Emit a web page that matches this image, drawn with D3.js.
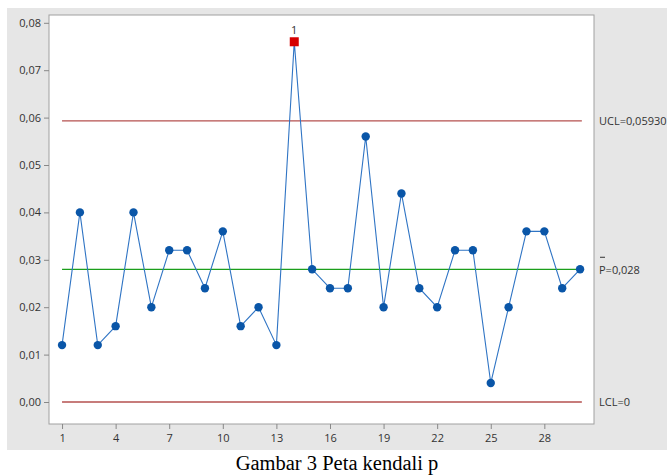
<!DOCTYPE html>
<html>
<head>
<meta charset="utf-8">
<script src="https://cdn.jsdelivr.net/npm/d3@7"></script>
<style>
  body { margin: 0; background: #fff; }
  text { font-family: "Open Sans", "Noto Sans", sans-serif; }
</style>
</head>
<body>
<div id="chart"></div>
<script>
// p chart data
const samples = d3.range(1, 31);
const pValues = [0.012, 0.040, 0.012, 0.016, 0.040, 0.020, 0.032, 0.032, 0.024, 0.036,
                 0.016, 0.020, 0.012, 0.076, 0.028, 0.024, 0.024, 0.056, 0.020, 0.044,
                 0.024, 0.020, 0.032, 0.032, 0.004, 0.020, 0.036, 0.036, 0.024, 0.028];
const xTicks = [1, 4, 7, 10, 13, 16, 19, 22, 25, 28];
const yTicks = [0, 0.01, 0.02, 0.03, 0.04, 0.05, 0.06, 0.07, 0.08];
const ucl = 0.0593;
const center = 0.028;
const lcl = 0;

const width = 667;
const height = 475;
const plot = {left: 49, right: 594, top: 15, bottom: 424};

const svg = d3.select("#chart")
  .append("svg")
  .attr("width", width)
  .attr("height", height);

// grey frame behind the chart
svg.append("rect")
  .attr("x", 7).attr("y", 8)
  .attr("width", width - 7).attr("height", 442)
  .attr("fill", "#e6e6e6");

// white plot area
svg.append("rect")
  .attr("x", plot.left).attr("y", plot.top)
  .attr("width", plot.right - plot.left).attr("height", plot.bottom - plot.top)
  .attr("fill", "#fff")
  .attr("stroke", "#a0a0a0");

const x = d3.scaleLinear()
  .domain([0.27, 30.78])
  .range([plot.left, plot.right]);

const y = d3.scaleLinear()
  .domain([0, 0.08])
  .range([402, 22.8]);

const fmt = d => d3.format(".2f")(d).replace(".", ",");

// y axis
const yAxis = svg.append("g")
  .attr("transform", `translate(${plot.left},0)`)
  .call(d3.axisLeft(y).tickValues(yTicks).tickFormat(fmt).tickSize(5).tickPadding(3));
yAxis.select(".domain").remove();
yAxis.selectAll("line").attr("stroke", "#888");
yAxis.selectAll("text").attr("font-size", "11px").attr("fill", "#333");

// x axis
const xAxis = svg.append("g")
  .attr("transform", `translate(0,${plot.bottom})`)
  .call(d3.axisBottom(x).tickValues(xTicks).tickFormat(d3.format("d")).tickSize(5).tickPadding(5));
xAxis.select(".domain").remove();
xAxis.selectAll("line").attr("stroke", "#888");
xAxis.selectAll("text").attr("font-size", "11px").attr("fill", "#333");

// control lines
const lines = [
  {v: ucl, color: "#b5504f"},
  {v: center, color: "#1b9e1b"},
  {v: lcl, color: "#b5504f"}
];
svg.selectAll(".ctl")
  .data(lines)
  .enter()
  .append("line")
  .attr("x1", x(1)).attr("x2", x(30.1))
  .attr("y1", d => y(d.v)).attr("y2", d => y(d.v))
  .attr("stroke", d => d.color)
  .attr("stroke-width", 1.3);

// data line
const line = d3.line()
  .x((d, i) => x(samples[i]))
  .y(d => y(d));
svg.append("path")
  .datum(pValues)
  .attr("d", line)
  .attr("fill", "none")
  .attr("stroke", "#2f74c4")
  .attr("stroke-width", 1.1);

// points
const outOfControl = d => d > ucl || d < lcl;
svg.selectAll(".pt")
  .data(pValues.map((v, i) => ({s: samples[i], v: v})).filter(d => !outOfControl(d.v)))
  .enter()
  .append("circle")
  .attr("cx", d => x(d.s))
  .attr("cy", d => y(d.v))
  .attr("r", 4.2)
  .attr("fill", "#0a56a8");

const outs = pValues.map((v, i) => ({s: samples[i], v: v})).filter(d => outOfControl(d.v));
svg.selectAll(".out")
  .data(outs)
  .enter()
  .append("rect")
  .attr("x", d => x(d.s) - 4.5)
  .attr("y", d => y(d.v) - 4.5)
  .attr("width", 9).attr("height", 9)
  .attr("fill", "#d60000");
svg.selectAll(".outlbl")
  .data(outs)
  .enter()
  .append("text")
  .attr("x", d => x(d.s))
  .attr("y", d => y(d.v) - 8)
  .attr("text-anchor", "middle")
  .attr("font-size", "11px")
  .attr("fill", "#333")
  .text("1");

// control limit labels on the right
const lblX = plot.right + 5;
svg.append("text")
  .attr("x", lblX).attr("y", y(ucl) + 4)
  .attr("font-size", "11px").attr("fill", "#333")
  .text("UCL=0,05930");
svg.append("text")
  .attr("x", lblX).attr("y", y(center) + 5)
  .attr("font-size", "11px").attr("fill", "#333")
  .text("P=0,028");
svg.append("line")
  .attr("x1", lblX + 1).attr("x2", lblX + 6)
  .attr("y1", y(center) - 12).attr("y2", y(center) - 12)
  .attr("stroke", "#333").attr("stroke-width", 1);
svg.append("text")
  .attr("x", lblX).attr("y", y(lcl) + 4)
  .attr("font-size", "11px").attr("fill", "#333")
  .text("LCL=0");

// caption
svg.append("text")
  .attr("x", 337).attr("y", 470)
  .attr("text-anchor", "middle")
  .style("font-family", "'Liberation Serif', 'Times New Roman', serif")
  .attr("font-size", "20.5px")
  .attr("fill", "#000")
  .text("Gambar 3 Peta kendali p");
</script>
</body>
</html>
